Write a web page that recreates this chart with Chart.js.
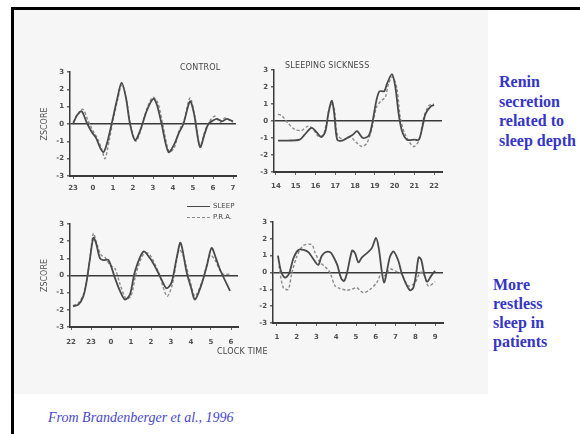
<!DOCTYPE html>
<html>
<head>
<meta charset="utf-8">
<script src="https://cdn.jsdelivr.net/npm/chart.js@4.4.1/dist/chart.umd.min.js"></script>
<style>
  html, body { margin: 0; padding: 0; background: #fff; }
  body { width: 580px; height: 434px; position: relative; overflow: hidden; font-family: "DejaVu Sans", sans-serif; }
  .abs { position: absolute; }
  #scan { left: 14px; top: 10px; width: 474px; height: 384px; background: #f6f6f6; }
  #topbar { left: 11px; top: 7px; right: 0; height: 3px; background: #000; }
  #leftbar { left: 11px; top: 7px; width: 3px; bottom: 0; background: #000; }
  .cap { font-size: 8px; line-height: 10px; color: #484848; letter-spacing: 0.2px; white-space: nowrap; }
  .note { font-family: "Liberation Serif", serif; font-weight: bold; font-size: 16px; line-height: 19.5px; color: #3535c8; }
  #src { left: 48px; top: 410px; font-family: "Liberation Serif", serif; font-style: italic; font-size: 14px; line-height: 16px; color: #4848cc; }
  .leg { font-size: 7px; line-height: 9px; color: #484848; }
  .legline { display: inline-block; width: 23px; height: 0; vertical-align: middle; margin-right: 3px; }
</style>
</head>
<body>
<div class="abs" id="scan"></div>
<div class="abs" id="topbar"></div>
<div class="abs" id="leftbar"></div>

<canvas id="ctrl" class="abs" width="230" height="150" style="left:20px;top:55px"></canvas>
<canvas id="sick" class="abs" width="210" height="150" style="left:250px;top:55px"></canvas>
<canvas id="ctrl2" class="abs" width="230" height="145" style="left:20px;top:210px"></canvas>
<canvas id="sick2" class="abs" width="210" height="145" style="left:250px;top:205px"></canvas>

<div class="abs cap" style="left:180px;top:63px">CONTROL</div>
<div class="abs cap" style="left:285px;top:61px">SLEEPING SICKNESS</div>
<div class="abs cap" style="left:217px;top:347px">CLOCK TIME</div>
<div class="abs leg" style="left:187px;top:202px">
  <div><span class="legline" style="border-top:1.8px solid #4a4a4a"></span>SLEEP</div>
  <div style="margin-top:2px"><span class="legline" style="border-top:1.4px dashed #8a8a8a"></span>P.R.A.</div>
</div>

<div class="abs note" style="left:499px;top:72px">Renin<br>secretion<br>related to<br>sleep depth</div>
<div class="abs note" style="left:493px;top:275px;line-height:19px">More<br>restless<br>sleep in<br>patients</div>
<div class="abs" id="src">From Brandenberger et al., 1996</div>

<script>
// control subjects, night 23h -> 7h (x = hours since 23h)
const ctrlLabels = ["23", "0", "1", "2", "3", "4", "5", "6", "7"];
const ctrlSleepT = [0, 0.2, 0.43, 0.68, 0.93, 1.15, 1.35, 1.52, 1.68, 1.93, 2.2, 2.43, 2.65, 2.85, 3.1, 3.35, 3.7, 4.02, 4.2, 4.43, 4.77, 5.05, 5.3, 5.52, 5.85, 6.05, 6.35, 6.6, 6.77, 7.0, 7.2, 7.45, 7.7, 8.0];
const ctrlSleepV = [0, 0.5, 0.73, 0.1, -0.45, -0.8, -1.35, -1.62, -1.2, 0, 1.4, 2.39, 1.5, 0, -0.94, -0.4, 0.8, 1.46, 1.1, 0, -1.62, -1.2, -0.5, 0, 1.31, 0.6, -1.33, -0.5, 0, 0.2, 0.3, 0.15, 0.3, 0.15];
const ctrlPraT = [0, 0.25, 0.5, 0.75, 1.0, 1.25, 1.45, 1.6, 1.8, 2.0, 2.25, 2.45, 2.7, 2.9, 3.15, 3.4, 3.7, 4.0, 4.25, 4.5, 4.8, 5.05, 5.3, 5.55, 5.85, 6.1, 6.35, 6.6, 6.85, 7.1, 7.35, 7.6, 7.85, 8.0];
const ctrlPraV = [0.1, 0.6, 0.85, 0.2, -0.4, -0.9, -1.5, -2.0, -1.0, 0.2, 1.5, 2.3, 1.2, -0.2, -1.0, -0.3, 0.9, 1.55, 1.2, -0.1, -1.6, -1.4, -0.4, 0.2, 1.5, 0.4, -1.3, -0.4, 0.2, 0.45, 0.1, 0.35, 0.2, 0.1];

// sleeping sickness, 14h -> 22h
const sickTicks = [14, 15, 16, 17, 18, 19, 20, 21, 22];
const sickSleepT = [14.1, 14.6, 15.2, 15.45, 15.8, 16.05, 16.3, 16.5, 16.66, 16.83, 16.95, 17.1, 17.35, 17.6, 17.9, 18.1, 18.4, 18.7, 18.86, 19.08, 19.24, 19.48, 19.62, 19.87, 20.04, 20.21, 20.38, 20.63, 21.0, 21.23, 21.4, 21.56, 21.82, 22.0];
const sickSleepV = [-1.15, -1.15, -1.1, -0.8, -0.4, -0.65, -0.95, -0.6, 0.5, 1.2, 0.4, -1.1, -1.15, -1.0, -0.8, -0.6, -1.0, -0.85, -0.2, 1.2, 1.75, 1.75, 2.2, 2.75, 2.0, 0.4, -0.6, -1.1, -1.1, -1.1, -0.4, 0.4, 0.85, 0.95];
const sickPraT = [14.1, 14.3, 14.63, 14.96, 15.3, 15.64, 15.9, 16.15, 16.4, 16.6, 16.77, 16.94, 17.11, 17.42, 17.76, 18.1, 18.35, 18.6, 18.86, 19.08, 19.33, 19.53, 19.7, 19.9, 20.12, 20.29, 20.54, 20.96, 21.23, 21.48, 21.73, 21.99];
const sickPraV = [0.4, 0.3, -0.15, -0.5, -0.55, -0.3, -0.5, -0.9, -0.8, 0.2, 1.0, 0.8, -0.8, -1.1, -0.95, -1.3, -1.5, -1.3, -0.4, 0.8, 1.2, 1.4, 2.2, 2.6, 1.9, 0.2, -0.8, -1.5, -1.15, 0.2, 0.9, 1.0];

// control subjects, night 22h -> 6h (x = hours since 22h)
const ctrl2Labels = ["22", "23", "0", "1", "2", "3", "4", "5", "6"];
const ctrl2SleepT = [0.1, 0.37, 0.62, 0.78, 0.95, 1.12, 1.25, 1.45, 1.62, 1.87, 2.2, 2.45, 2.7, 2.95, 3.2, 3.62, 3.95, 4.28, 4.55, 4.78, 5.03, 5.28, 5.48, 5.78, 6.0, 6.2, 6.53, 6.8, 7.03, 7.25, 7.45, 7.95];
const ctrl2SleepV = [-1.8, -1.7, -1.2, -0.35, 1.0, 2.2, 1.9, 1.0, 0.9, 0.9, -0.15, -0.9, -1.4, -1.1, 0.25, 1.4, 1.0, 0.35, -0.3, -0.75, -0.4, 1.0, 1.9, 0.2, -0.7, -1.4, -0.5, 0.6, 1.6, 1.0, 0.35, -0.9];
const ctrl2PraT = [0.1, 0.37, 0.62, 0.8, 0.97, 1.12, 1.3, 1.5, 1.7, 1.95, 2.2, 2.45, 2.75, 3.0, 3.25, 3.6, 3.85, 4.1, 4.4, 4.8, 5.05, 5.4, 5.6, 5.95, 6.2, 6.6, 6.95, 7.2, 7.45, 7.65, 7.95];
const ctrl2PraV = [-1.75, -1.6, -1.1, -0.2, 1.2, 2.45, 1.8, 1.2, 1.05, 0.6, 0.4, -0.5, -1.35, -1.2, 0.1, 1.2, 1.3, 0.9, 0.1, -1.2, -0.6, 1.5, 1.2, -0.3, -1.2, -0.2, 1.2, 0.9, 0.3, 0.05, 0.1];

// sleeping sickness, 1h -> 9h
const sick2Ticks = [1, 2, 3, 4, 5, 6, 7, 8, 9];
const sick2SleepT = [1.05, 1.2, 1.4, 1.6, 1.85, 2.1, 2.35, 2.6, 2.84, 3.09, 3.25, 3.45, 3.7, 3.85, 4.05, 4.25, 4.4, 4.55, 4.8, 4.95, 5.12, 5.3, 5.55, 5.8, 6.01, 6.15, 6.3, 6.42, 6.55, 6.72, 6.9, 7.14, 7.3, 7.5, 7.73, 7.9, 8.05, 8.17, 8.3, 8.45, 8.6, 8.8, 9.0];
const sick2SleepV = [1.0, 0.1, -0.3, -0.1, 0.9, 1.35, 1.35, 1.2, 0.8, 0.45, 0.95, 1.2, 1.2, 0.95, 0.45, -0.35, -0.5, 0.0, 1.3, 1.15, 0.6, 0.9, 1.15, 1.45, 2.05, 1.45, 0.1, -0.6, 0.0, 0.95, 1.25, 0.7, 0.0, -0.6, -1.05, -0.9, 0.0, 0.9, 0.75, -0.1, -0.55, -0.2, 0.1];
const sick2PraT = [1.1, 1.32, 1.57, 1.74, 1.99, 2.33, 2.76, 2.92, 3.18, 3.43, 3.68, 3.94, 4.19, 4.53, 4.78, 5.03, 5.37, 5.71, 6.05, 6.3, 6.47, 6.72, 7.06, 7.31, 7.65, 7.99, 8.24, 8.41, 8.66, 9.0];
const sick2PraV = [0.4, -0.9, -1.0, -0.1, 0.9, 1.6, 1.65, 1.2, 0.6, 0.35, 0.0, -0.8, -0.95, -1.05, -1.0, -0.9, -1.2, -1.0, -0.6, 0.0, -0.2, 0.2, 0.05, -0.1, -0.8, -0.6, 0.0, -0.05, -0.8, -0.55];

const xy = (xs, ys) => xs.map((x, i) => ({ x: x, y: ys[i] }));
const tickFont = { family: "DejaVu Sans", size: 7, weight: "bold" };
const ink = "#505050";

function panel(id, p) {
  new Chart(document.getElementById(id), {
    type: "line",
    data: {
      datasets: [
        {
          label: "SLEEP",
          data: xy(p.sleepT, p.sleepV),
          borderColor: "#4a4a4a",
          borderWidth: 1.8,
          pointRadius: 0,
          tension: 0.3,
        },
        {
          label: "P.R.A.",
          data: xy(p.praT, p.praV),
          borderColor: "#8a8a8a",
          borderWidth: 1.4,
          borderDash: [3, 2],
          pointRadius: 0,
          tension: 0.3,
        },
      ],
    },
    options: {
      responsive: false,
      animation: false,
      events: [],
      layout: { padding: p.pad },
      plugins: { legend: { display: false }, tooltip: { enabled: false } },
      scales: {
        x: {
          type: "linear",
          min: p.xMin,
          max: p.xMax,
          afterFit: (s) => { s.height = p.xH; },
          afterBuildTicks: (s) => { s.ticks = p.ticks.map((v) => ({ value: v })); },
          ticks: {
            callback: (v, i) => p.labels[i],
            font: tickFont,
            color: ink,
            padding: p.tickPad,
            maxRotation: 0,
            autoSkip: false,
          },
          grid: { drawOnChartArea: false, color: "#666", tickLength: 3 },
          border: { color: "#3a3a3a", width: 2 },
        },
        y: {
          min: -3,
          max: 3,
          afterFit: (s) => { s.width = p.yW; },
          ticks: { stepSize: 1, font: tickFont, color: ink, padding: 3 },
          grid: {
            color: (c) => (c.tick && c.tick.value === 0 ? "#3a3a3a" : "rgba(0,0,0,0)"),
            lineWidth: 1.4,
            tickColor: "#666",
            tickLength: 3,
          },
          border: { color: "#3a3a3a", width: 1.5 },
          title: {
            display: p.yTitle,
            text: "ZSCORE",
            font: { family: "DejaVu Sans", size: 8 },
            color: "#505050",
            padding: 0,
          },
        },
      },
    },
  });
}

panel("ctrl", {
  sleepT: ctrlSleepT, sleepV: ctrlSleepV, praT: ctrlPraT, praV: ctrlPraV,
  ticks: ctrlLabels.map((_, i) => i), labels: ctrlLabels,
  xMin: -0.15, xMax: 8.15, pad: { left: 20, top: 17, right: 14, bottom: 0 },
  yW: 30, xH: 29, tickPad: 5, yTitle: true,
});
panel("sick", {
  sleepT: sickSleepT, sleepV: sickSleepV, praT: sickPraT, praV: sickPraV,
  ticks: sickTicks, labels: sickTicks.map(String),
  xMin: 13.9, xMax: 22.4, pad: { left: 0, top: 15, right: 18, bottom: 0 },
  yW: 24, xH: 33, tickPad: 7, yTitle: false,
});
panel("ctrl2", {
  sleepT: ctrl2SleepT, sleepV: ctrl2SleepV, praT: ctrl2PraT, praV: ctrl2PraV,
  ticks: ctrl2Labels.map((_, i) => i), labels: ctrl2Labels,
  xMin: -0.05, xMax: 8.35, pad: { left: 20, top: 14, right: 12, bottom: 0 },
  yW: 30, xH: 28, tickPad: 8, yTitle: true,
});
panel("sick2", {
  sleepT: sick2SleepT, sleepV: sick2SleepV, praT: sick2PraT, praV: sick2PraV,
  ticks: sick2Ticks, labels: sick2Ticks.map(String),
  xMin: 0.8, xMax: 9.4, pad: { left: 0, top: 17, right: 17, bottom: 0 },
  yW: 23, xH: 27, tickPad: 7, yTitle: false,
});
</script>
</body>
</html>
